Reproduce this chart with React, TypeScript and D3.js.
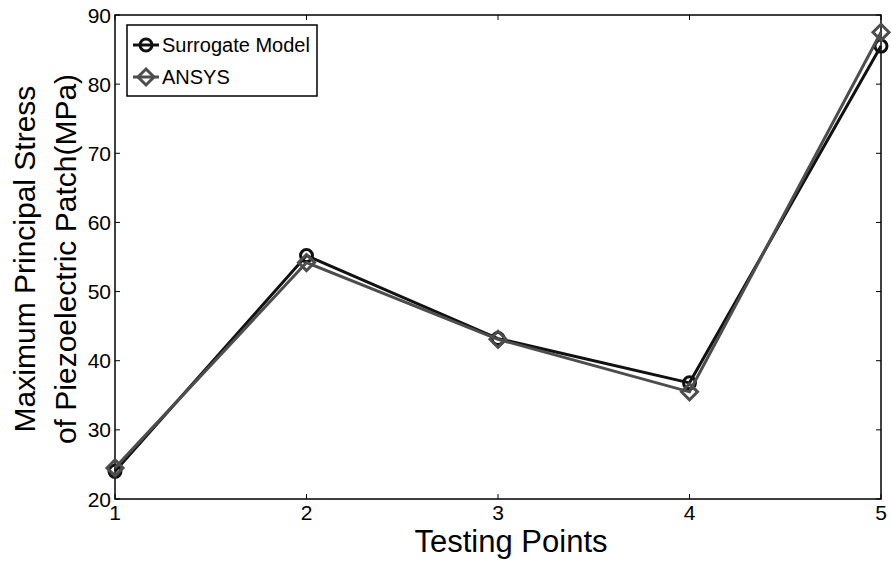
import { useEffect, useRef } from "react";
import * as d3 from "d3";

// chart values
const testingPoints = [1, 2, 3, 4, 5];
const surrogateModel = [24.0, 55.2, 43.2, 36.8, 85.5];
const ansys = [24.5, 54.2, 43.1, 35.5, 87.5];
const yTicks = [20, 30, 40, 50, 60, 70, 80, 90];
const seriesNames = ["Surrogate Model", "ANSYS"];

const width = 891;
const height = 565;
const margin = { left: 115, right: 10, top: 15, bottom: 66 };
const font = "Arial, 'Liberation Sans', sans-serif";

export default function App() {
  const svgRef = useRef<SVGSVGElement>(null);

  useEffect(() => {
    const svg = d3.select(svgRef.current);
    svg.selectAll("*").remove();

    const x = d3.scaleLinear().domain([1, 5]).range([margin.left, width - margin.right]);
    const y = d3.scaleLinear().domain([20, 90]).range([height - margin.bottom, margin.top]);

    const x0 = margin.left, x1 = width - margin.right;
    const y0 = height - margin.bottom, y1 = margin.top;

    // ticks pointing inward, mirrored on top/right
    const tickLen = 5;
    const g = svg.append("g").attr("stroke", "#000").attr("stroke-width", 1);
    yTicks.forEach((t) => {
      g.append("line").attr("x1", x0).attr("x2", x0 + tickLen).attr("y1", y(t)).attr("y2", y(t));
      g.append("line").attr("x1", x1).attr("x2", x1 - tickLen).attr("y1", y(t)).attr("y2", y(t));
    });
    testingPoints.forEach((t) => {
      g.append("line").attr("x1", x(t)).attr("x2", x(t)).attr("y1", y0).attr("y2", y0 - tickLen);
      g.append("line").attr("x1", x(t)).attr("x2", x(t)).attr("y1", y1).attr("y2", y1 + tickLen);
    });

    // frame
    svg.append("rect")
      .attr("x", x0).attr("y", y1)
      .attr("width", x1 - x0).attr("height", y0 - y1)
      .attr("fill", "none").attr("stroke", "#000").attr("stroke-width", 1.5);

    // tick labels
    svg.append("g").selectAll("text").data(yTicks).join("text")
      .attr("x", x0 - 4).attr("y", (d) => y(d) + 7.5)
      .attr("text-anchor", "end")
      .attr("font-family", font).attr("font-size", 21)
      .text((d) => d);
    svg.append("g").selectAll("text").data(testingPoints).join("text")
      .attr("x", (d) => x(d)).attr("y", y0 + 21)
      .attr("text-anchor", "middle")
      .attr("font-family", font).attr("font-size", 21)
      .text((d) => d);

    // axis titles
    svg.append("text")
      .attr("x", (x0 + x1) / 2 + 13).attr("y", height - 13)
      .attr("text-anchor", "middle")
      .attr("font-family", font).attr("font-size", 31)
      .text("Testing Points");
    const yl = svg.append("text")
      .attr("transform", `translate(35, ${(y0 + y1) / 2 + 2}) rotate(-90)`)
      .attr("text-anchor", "middle")
      .attr("font-family", font).attr("font-size", 30);
    yl.append("tspan").attr("x", 0).attr("y", 0).text("Maximum Principal Stress");
    yl.append("tspan").attr("x", 0).attr("y", 41).text("of Piezoelectric Patch(MPa)");

    const line = d3.line<number>().x((_, i) => x(testingPoints[i])).y((d) => y(d));
    const diamond = (cx: number, cy: number, r: number) =>
      `M${cx},${cy - r}L${cx + r},${cy}L${cx},${cy + r}L${cx - r},${cy}Z`;

    const series = [
      { name: seriesNames[0], values: surrogateModel, color: "#111", marker: "circle" },
      { name: seriesNames[1], values: ansys, color: "#4d4d4d", marker: "diamond" },
    ];

    series.forEach((s) => {
      svg.append("path").attr("d", line(s.values))
        .attr("fill", "none").attr("stroke", s.color).attr("stroke-width", 3);
      s.values.forEach((v, i) => {
        const cx = x(testingPoints[i]), cy = y(v);
        if (s.marker === "circle") {
          svg.append("circle").attr("cx", cx).attr("cy", cy).attr("r", 6)
            .attr("fill", "none").attr("stroke", s.color).attr("stroke-width", 3);
        } else {
          svg.append("path").attr("d", diamond(cx, cy, 8))
            .attr("fill", "none").attr("stroke", s.color).attr("stroke-width", 3);
        }
      });
    });

    // legend
    const lg = svg.append("g");
    lg.append("rect").attr("x", 127).attr("y", 25).attr("width", 190).attr("height", 71)
      .attr("fill", "#fff").attr("stroke", "#000").attr("stroke-width", 1.5);
    series.forEach((s, i) => {
      const ly = 45 + i * 32;
      lg.append("line").attr("x1", 133).attr("x2", 159).attr("y1", ly).attr("y2", ly)
        .attr("stroke", s.color).attr("stroke-width", 3);
      if (s.marker === "circle") {
        lg.append("circle").attr("cx", 146).attr("cy", ly).attr("r", 6)
          .attr("fill", "none").attr("stroke", s.color).attr("stroke-width", 3);
      } else {
        lg.append("path").attr("d", diamond(146, ly, 8))
          .attr("fill", "none").attr("stroke", s.color).attr("stroke-width", 3);
      }
      lg.append("text").attr("x", 162).attr("y", ly + 7)
        .attr("font-family", font).attr("font-size", 20).text(s.name);
    });
  }, []);

  return (
    <svg
      ref={svgRef}
      width={width}
      height={height}
      style={{ position: "absolute", left: 0, top: 0, background: "#fff" }}
    />
  );
}
